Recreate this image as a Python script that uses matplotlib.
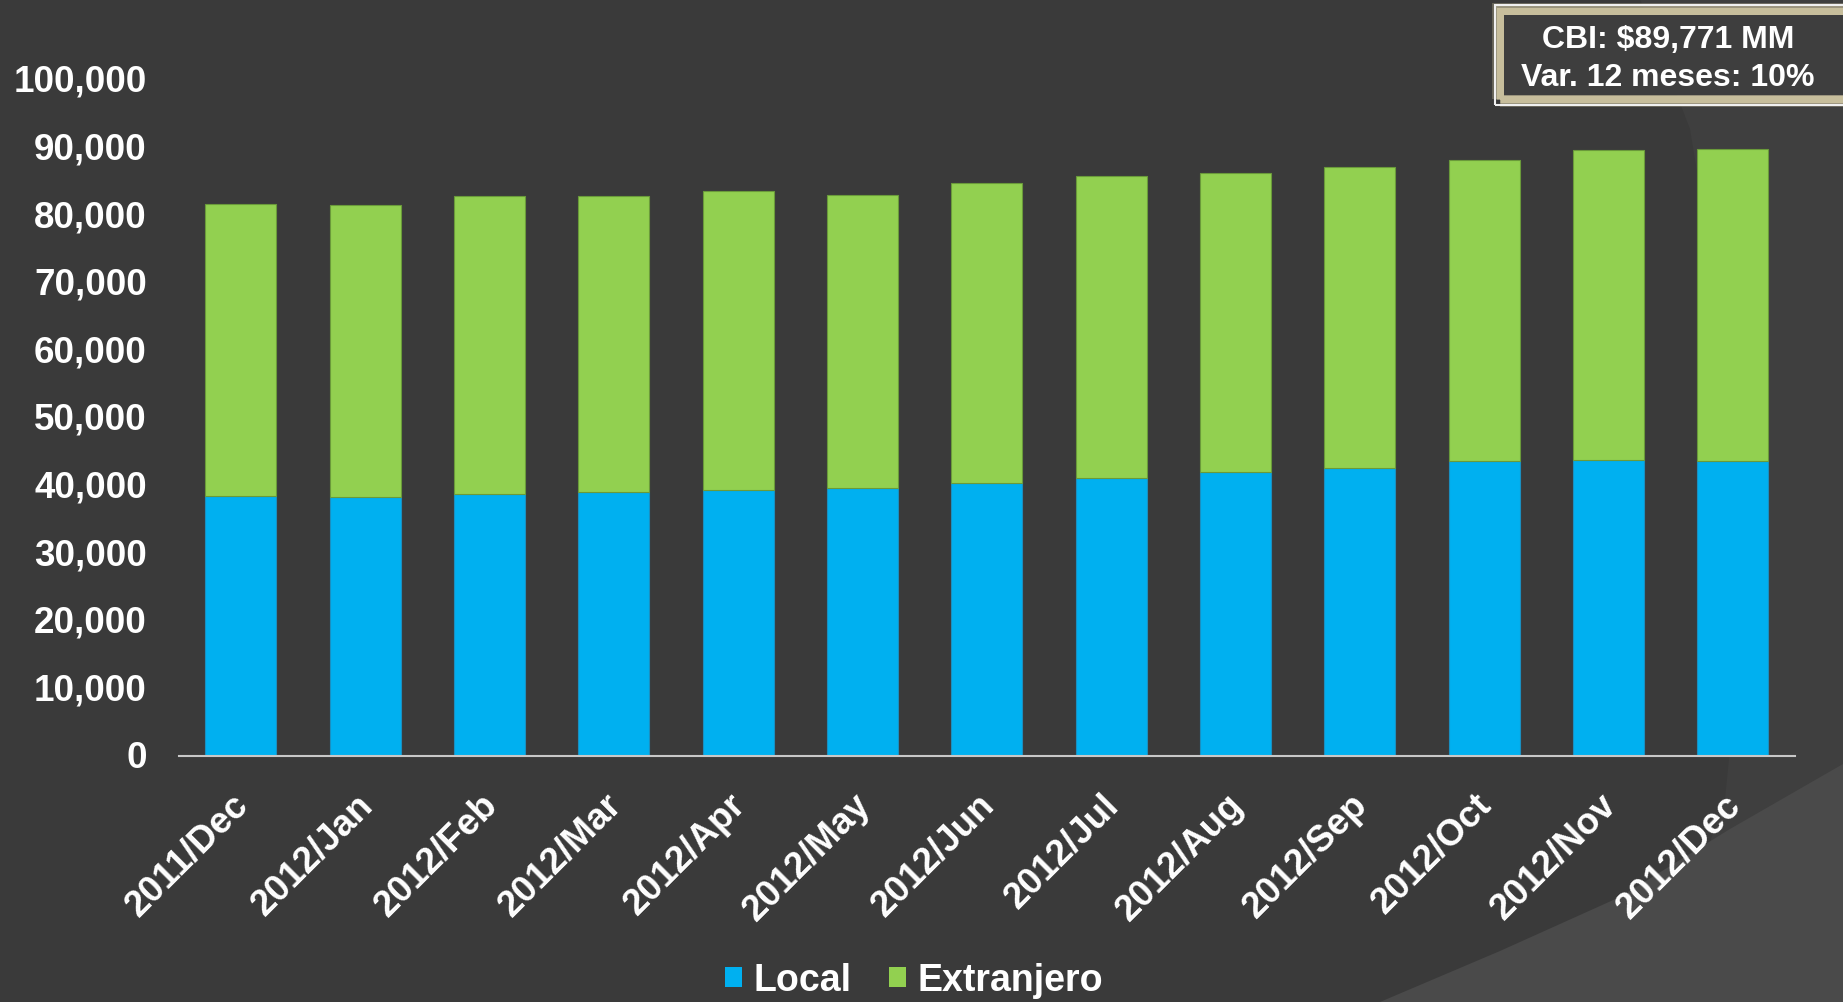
import matplotlib
matplotlib.use("Agg")
import matplotlib.pyplot as plt
import matplotlib.transforms as mtransforms
from matplotlib.patches import Polygon, Rectangle
import numpy as np

# data
months = ["2011/Dec", "2012/Jan", "2012/Feb", "2012/Mar", "2012/Apr", "2012/May",
          "2012/Jun", "2012/Jul", "2012/Aug", "2012/Sep", "2012/Oct", "2012/Nov",
          "2012/Dec"]
local = [38500, 38350, 38750, 39090, 39290, 39630, 40420, 41160, 41950,
         42640, 43630, 43820, 43630]
total = [81590, 81440, 82770, 82770, 83510, 82970, 84700, 85820, 86220,
         87100, 88100, 89570, 89771]
extranjero = [t - l for t, l in zip(total, local)]
yticks = list(range(0, 100001, 10000))
box_lines = ["CBI: $89,771 MM", "Var. 12 meses: 10%"]

BG = "#3a3a3a"
BLUE = "#00b0f0"
GREEN = "#92d050"

plt.rcParams["font.family"] = ["Liberation Sans", "DejaVu Sans"]
plt.rcParams["font.weight"] = "bold"

W, H = 1843, 1003
fig = plt.figure(figsize=(W / 100, H / 100), dpi=100, facecolor=BG)

# background swooshes (decoration only)
def px(pts):
    return [(x / W, 1 - y / H) for x, y in pts]

fig.patches.append(Polygon(px([(1640, 0), (1843, 0), (1843, 1003), (1657, 1003),
                                (1690, 900), (1725, 800), (1735, 700), (1733, 500),
                                (1718, 300), (1690, 130)]),
                           closed=True, transform=fig.transFigure,
                           facecolor="#3f3f3f", edgecolor="none", zorder=-3))
fig.patches.append(Polygon(px([(1380, 1003), (1500, 952), (1620, 898), (1730, 830),
                                (1843, 765), (1843, 1003)]),
                           closed=True, transform=fig.transFigure,
                           facecolor="#4a4a4a", edgecolor="none", zorder=-2))

ax = fig.add_axes([178.7 / W, 1 - 757 / H, (1795 - 178.7) / W, (757 - 80.8) / H])
ax.set_facecolor("none")

x = np.arange(len(months))
ax.bar(x, local, width=0.57, color=BLUE, edgecolor="#1a8fc0", linewidth=0.8,
       label="Local")
ax.bar(x, extranjero, bottom=local, width=0.57, color=GREEN, edgecolor="#6a9a3a",
       linewidth=0.8, label="Extranjero")

ax.set_xlim(-0.5, len(months) - 0.5)
ax.set_ylim(0, 100000)
ax.set_yticks(yticks)
ax.set_yticklabels([f"{v:,}" for v in yticks], fontsize=26.5, color="white",
                   fontweight="bold")
ax.tick_params(axis="y", length=0, pad=23)
ax.set_xticks(x)
ax.set_xticklabels(months, rotation=45, ha="right", va="top",
                   rotation_mode="anchor", fontsize=26.5, color="white",
                   fontweight="bold")
ax.tick_params(axis="x", length=0, pad=24)

# nudge tick labels a little, like the original slide
shift_x = mtransforms.ScaledTranslation(-0.10, 0.03, fig.dpi_scale_trans)
for lab in ax.get_xticklabels():
    lab.set_transform(lab.get_transform() + shift_x)
shift_y = mtransforms.ScaledTranslation(0, 0.025, fig.dpi_scale_trans)
for lab in ax.get_yticklabels():
    lab.set_transform(lab.get_transform() + shift_y)

for side in ["top", "right", "left"]:
    ax.spines[side].set_visible(False)
ax.spines["bottom"].set_color("#c8c8c8")
ax.spines["bottom"].set_linewidth(1.5)

leg = fig.legend(loc="center", bbox_to_anchor=(914 / W, 1 - 981 / H), ncol=2,
                 frameon=False, fontsize=27, handlelength=0.45, handleheight=0.45,
                 handletextpad=0.3, columnspacing=1.0)
for t in leg.get_texts():
    t.set_color("white")
    t.set_fontweight("bold")
for h in leg.legend_handles:
    h.set_edgecolor("none")

# info box top right
for lw, a in [(16, 0.3), (11, 0.5), (7, 0.9)]:
    fig.patches.append(Rectangle((1500 / W, 1 - 100 / H), 360 / W, 88 / H,
                                 transform=fig.transFigure, facecolor="none",
                                 edgecolor="#cdc3a0", linewidth=lw * 0.72,
                                 alpha=a, zorder=5))
fig.patches.append(Rectangle((1504 / W, 1 - 96 / H), 360 / W, 80 / H,
                             transform=fig.transFigure, facecolor="#3e3e3e",
                             edgecolor="none", zorder=6))
fig.patches.append(Rectangle((1495 / W, 1 - 106 / H), 360 / W, 100 / H,
                             transform=fig.transFigure, facecolor="none",
                             edgecolor="#f0f0f0", linewidth=1.5, zorder=7))
fig.text(1668 / W, 1 - 40 / H, box_lines[0], ha="center", va="center",
         fontsize=23, color="white", fontweight="bold", zorder=8)
fig.text(1668 / W, 1 - 78 / H, box_lines[1], ha="center", va="center",
         fontsize=23, color="white", fontweight="bold", zorder=8)

fig.savefig("out.png", dpi=100, facecolor=BG)
